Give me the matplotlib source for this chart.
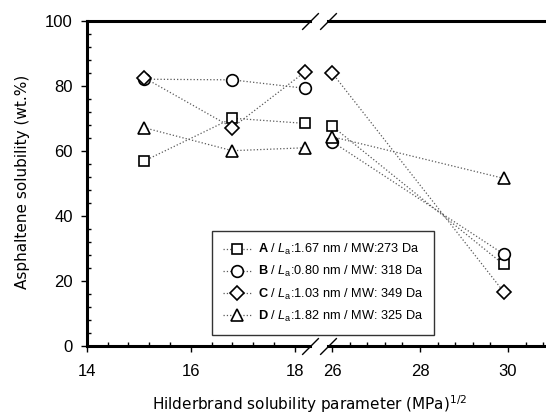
import matplotlib
matplotlib.use('Agg')
import matplotlib.pyplot as plt
from matplotlib.ticker import MultipleLocator
from matplotlib.lines import Line2D

plt.rcParams['font.family'] = ['Liberation Sans', 'DejaVu Sans']
plt.rcParams['mathtext.fontset'] = 'custom'
plt.rcParams['mathtext.rm'] = 'Liberation Sans'
plt.rcParams['mathtext.it'] = 'Liberation Sans:italic'
plt.rcParams['mathtext.bf'] = 'Liberation Sans:bold'

# solubility parameter, left (low) and right (high) segments of the broken axis
x_left = [15.1, 16.8, 18.2]
x_right = [26.0, 29.9]

# asphaltene solubility (wt.%), same order as x_left + x_right
sol_a = [56.8, 70.0, 68.4, 67.6, 25.0]
sol_b = [82.0, 81.8, 79.2, 62.8, 28.2]
sol_c = [82.5, 67.1, 84.3, 84.0, 16.6]
sol_d = [67.1, 60.0, 60.9, 64.3, 51.5]

names = ['A', 'B', 'C', 'D']
la_nm = ['1.67', '0.80', '1.03', '1.82']
mw_da = ['MW:273 Da', 'MW: 318 Da', 'MW: 349 Da', 'MW: 325 Da']
markers = ['s', 'o', 'D', '^']
msizes = [7.8, 8.4, 7.4, 8.4]

W, H = 546, 415
fig = plt.figure(figsize=(W / 100, H / 100), dpi=100)
ax1 = fig.add_axes([86.7 / W, 69.3 / H, 223.3 / W, 325 / H])
ax2 = fig.add_axes([328 / W, 69.3 / H, 218 / W, 325 / H])

handles = []
for name, la, mw, vals, mk, ms in zip(names, la_nm, mw_da,
                                      [sol_a, sol_b, sol_c, sol_d], markers, msizes):
    style = dict(ls=':', lw=0.9, color='0.35', marker=mk, ms=ms,
                 mfc='white', mec='black', mew=1.2, clip_on=False)
    h, = ax1.plot(x_left, vals[:3], **style)
    ax2.plot(x_right, vals[3:], **style)
    h.set_label(r'$\mathbf{%s}$ / $L_\mathrm{a}$:%s nm / %s' % (name, la, mw))
    handles.append(h)

for ax in (ax1, ax2):
    ax.set_ylim(0, 100)
    ax.xaxis.set_major_locator(MultipleLocator(2))
    ax.xaxis.set_minor_locator(MultipleLocator(0.4))
    ax.yaxis.set_major_locator(MultipleLocator(20))
    ax.yaxis.set_minor_locator(MultipleLocator(4))
    ax.tick_params(which='major', direction='out', length=4, width=1,
                   labelsize=12, color='black')
    ax.tick_params(which='minor', direction='in', length=3, width=1)
    ax.tick_params(axis='x', which='major', pad=9)
    ax.tick_params(axis='y', which='major', pad=6)
    for s in ax.spines.values():
        s.set_linewidth(2.2)
    ax.spines['right'].set_visible(False)

ax1.set_xlim(14, 18.294)
ax2.set_xlim(25.909, 30.864)
ax2.spines['left'].set_visible(False)
ax2.tick_params(axis='y', which='both', left=False, labelleft=False)

# break marks
brk = dict(marker=[(-1, -1), (1, 1)], markersize=12, ls='none',
           color='black', mec='black', mew=1, clip_on=False)
ax1.plot([1, 1], [0, 1], transform=ax1.transAxes, **brk)
ax2.plot([0, 0], [0, 1], transform=ax2.transAxes, **brk)

fig.legend(handles=[Line2D([], [], ls=':', lw=0.9, color='0.35', marker=h.get_marker(),
                           ms=h.get_markersize(), mfc='white', mec='black', mew=1.2)
                    for h in handles],
           labels=[h.get_label() for h in handles],
           loc='upper left', bbox_to_anchor=(211.7 / W, 1 - 230.7 / H),
           fontsize=9.2, frameon=True, fancybox=False, edgecolor='0.2',
           framealpha=1, handlelength=2.2, handletextpad=0.5,
           labelspacing=0.55, borderpad=0.9, borderaxespad=0)

fig.text(23 / W, 1 - 182 / H, 'Asphaltene solubility (wt.%)', rotation=90,
         ha='center', va='center', fontsize=11, family='DejaVu Sans')
fig.text(310 / W, 1 - 404 / H, r'Hilderbrand solubility parameter (MPa)$^{1/2}$',
         ha='center', va='center', fontsize=11, family='DejaVu Sans',
         math_fontfamily='dejavusans')

fig.savefig('out.png', dpi=100)
